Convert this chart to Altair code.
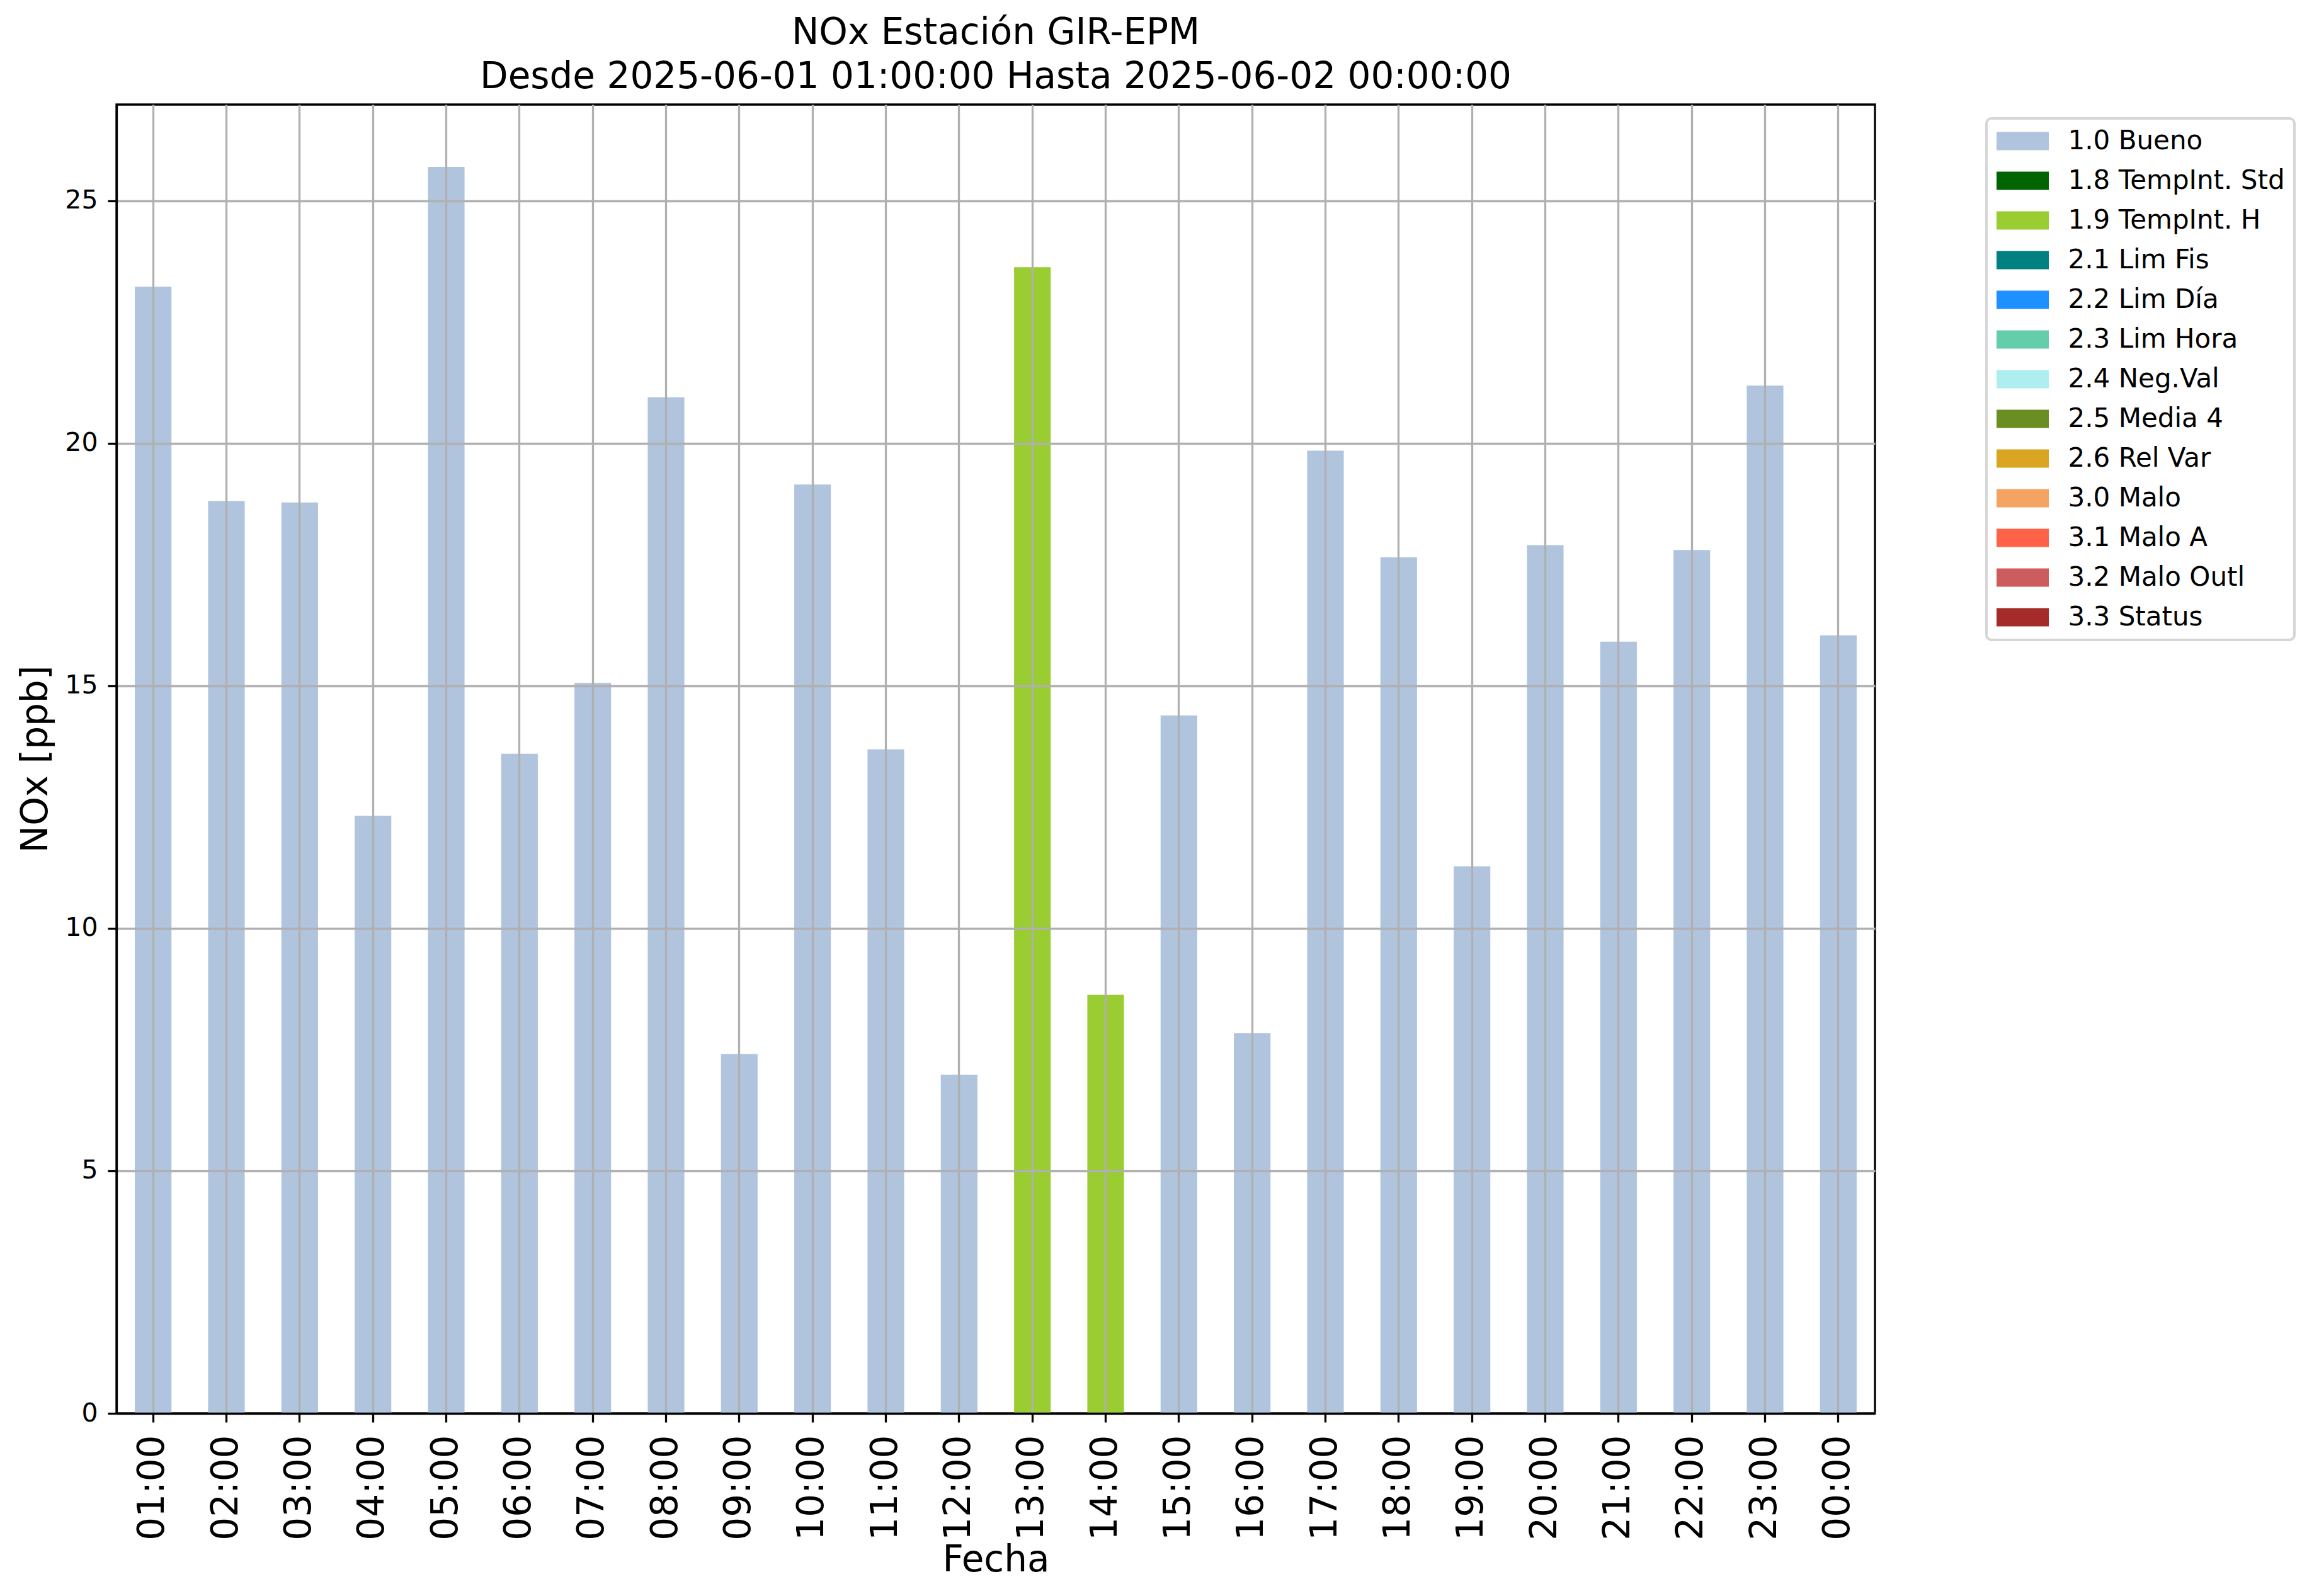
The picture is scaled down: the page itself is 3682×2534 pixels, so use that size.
import altair as alt
import pandas as pd

hours = ["01:00", "02:00", "03:00", "04:00", "05:00", "06:00", "07:00", "08:00",
         "09:00", "10:00", "11:00", "12:00", "13:00", "14:00", "15:00", "16:00",
         "17:00", "18:00", "19:00", "20:00", "21:00", "22:00", "23:00", "00:00"]
values = [23.23, 18.81, 18.78, 12.32, 25.70, 13.60, 15.06, 20.95,
          7.41, 19.15, 13.69, 6.98, 23.63, 8.63, 14.39, 7.84,
          19.85, 17.65, 11.28, 17.90, 15.91, 17.80, 21.19, 16.04]
flags = ["1.0 Bueno"] * 12 + ["1.9 TempInt. H", "1.9 TempInt. H"] + ["1.0 Bueno"] * 10

categories = ["1.0 Bueno", "1.8 TempInt. Std", "1.9 TempInt. H", "2.1 Lim Fis",
              "2.2 Lim Día", "2.3 Lim Hora", "2.4 Neg.Val", "2.5 Media 4",
              "2.6 Rel Var", "3.0 Malo", "3.1 Malo A", "3.2 Malo Outl", "3.3 Status"]
colors = ["#b0c4de", "#006400", "#9acd32", "#008080", "#1e90ff", "#66cdaa",
          "#afeeee", "#6b8e23", "#daa520", "#f4a460", "#ff6347", "#cd5c5c", "#a52a2a"]

y_ticks = [0, 5, 10, 15, 20, 25]

df = pd.DataFrame({"Fecha": hours, "NOx": values, "Flag": flags})

FONT = "DejaVu Sans"

chart = alt.Chart(df).mark_bar().encode(
    x=alt.X("Fecha:N", sort=hours,
            scale=alt.Scale(domain=hours, paddingInner=0.5, paddingOuter=0.25),
            axis=alt.Axis(title="Fecha", labelAngle=-90, labelFontSize=58,
                          labelFont=FONT, labelColor="black", labelPadding=20,
                          titleFontSize=58, titleFont=FONT, titleFontWeight="normal",
                          titleColor="black", titlePadding=4,
                          tickSize=14, tickWidth=3.3, tickColor="black",
                          domainColor="black", domainWidth=3.3,
                          grid=True, gridColor="#b0b0b0", gridWidth=3.3,
                          bandPosition=0.5, zindex=1)),
    y=alt.Y("NOx:Q",
            scale=alt.Scale(domain=[0, 26.985], nice=False, zero=True),
            axis=alt.Axis(title="NOx [ppb]", values=y_ticks, labelFontSize=41,
                          labelFont=FONT, labelColor="black", labelPadding=16,
                          titleFontSize=58, titleFont=FONT, titleFontWeight="normal",
                          titleColor="black", titlePadding=16,
                          tickSize=14, tickWidth=3.3, tickColor="black",
                          domainColor="black", domainWidth=3.3,
                          grid=True, gridColor="#b0b0b0", gridWidth=3.3, zindex=1)),
    color=alt.Color("Flag:N",
                    scale=alt.Scale(domain=categories, range=colors),
                    legend=alt.Legend(title=None, orient="none",
                                      legendX=2969, legendY=22,
                                      symbolType="M-2.862,-1H2.862V1H-2.862Z",
                                      symbolSize=841, symbolStrokeWidth=0,
                                      symbolOffset=21.5,
                                      labelFont=FONT, labelFontSize=42,
                                      labelColor="black", labelOffset=51,
                                      labelLimit=2000,
                                      rowPadding=21, padding=15,
                                      strokeColor="#d6d6d6",
                                      fillColor="white", cornerRadius=8)),
).properties(
    width=2792,
    height=2078,
    title=alt.TitleParams(
        text=["NOx Estación GIR-EPM",
              "Desde 2025-06-01 01:00:00 Hasta 2025-06-02 00:00:00"],
        font=FONT, fontSize=58, fontWeight="normal", color="black",
        anchor="middle", lineHeight=70, offset=14),
    autosize=alt.AutoSizeParams(type="none"),
    padding={"left": 177, "top": 158, "right": 690, "bottom": 270},
).configure_view(
    stroke="black", strokeWidth=3.3
).configure_legend(
    strokeWidth=4
)

chart.save("out.html", embed_options={"renderer": "svg", "actions": False})
